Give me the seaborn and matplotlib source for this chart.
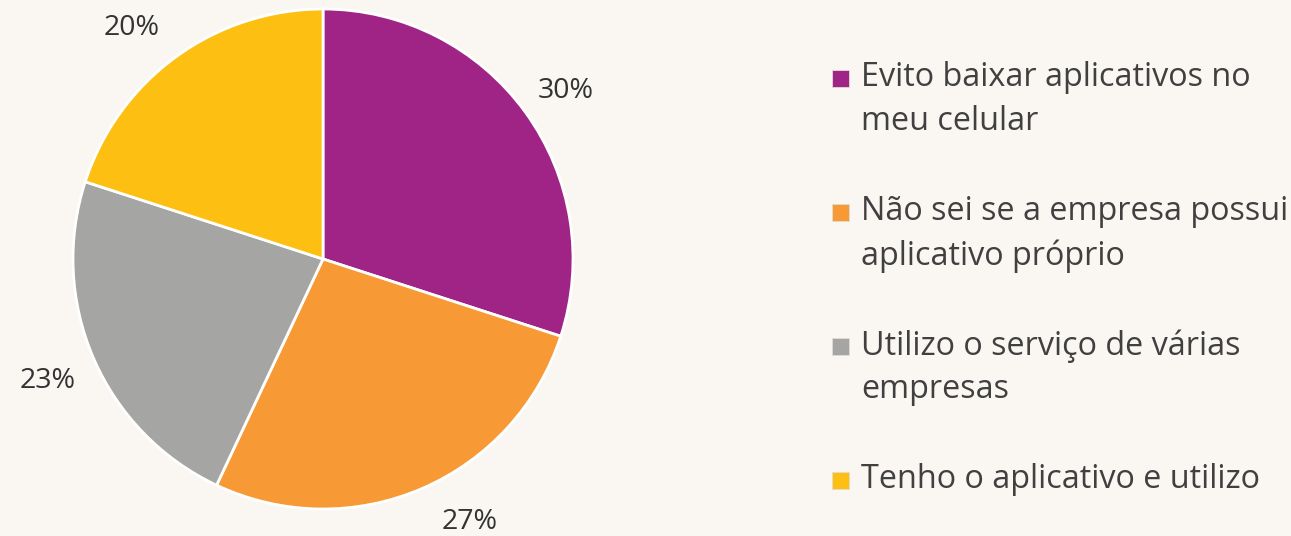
import matplotlib
matplotlib.use("Agg")
import matplotlib.pyplot as plt
import seaborn as sns
from matplotlib.patches import Rectangle

sns.set_theme(style="white")
plt.rcParams['font.family'] = ['Open Sans', 'DejaVu Sans']

categories = ["Evito baixar aplicativos no\nmeu celular",
              "Não sei se a empresa possui\naplicativo próprio",
              "Utilizo o serviço de várias\nempresas",
              "Tenho o aplicativo e utilizo"]
values = [30, 27, 23, 20]
colors = ["#A02386", "#F79A36", "#A5A5A3", "#FDBF12"]
bg = "#FAF7F3"

W, H = 1291, 536
fig = plt.figure(figsize=(W / 100, H / 100), dpi=100, facecolor=bg)
ax = fig.add_axes([(323 - 250) / W, (H - 259 - 250) / H, 500 / W, 500 / H])
ax.set_facecolor(bg)

wedges, texts, autotexts = ax.pie(
    values, colors=colors, startangle=90, counterclock=False,
    autopct=lambda p: f"{p:.0f}%", pctdistance=1.2,
    wedgeprops=dict(edgecolor="white", linewidth=2),
    textprops=dict(fontsize=20.5, color="#333333"))
ax.set_xlim(-1, 1)
ax.set_ylim(-1, 1)
ax.set_aspect("equal")
# small nudges of the value labels, as placed in the original
nudges = [(0.0, -0.032), (0.11, 0.05), (0.0, -0.01), (-0.06, -0.048)]
for t, (dx, dy) in zip(autotexts, nudges):
    x, y = t.get_position()
    t.set_position((x + dx, y + dy))

# legend drawn manually so the marker aligns with the first text line
first_line_y = [78, 212, 346, 480]
line_gap = 44
for cat, col, y0 in zip(categories, colors, first_line_y):
    fig.patches.append(Rectangle((832 / W, 1 - (y0 + 9) / H), 17 / W, 17 / H,
                                 transform=fig.transFigure, facecolor=col,
                                 edgecolor="#e0dcd8", linewidth=0.6))
    for i, line in enumerate(cat.split("\n")):
        fig.text(861 / W, 1 - (y0 + i * line_gap) / H, line, fontsize=23.3,
                 color="#404040", va="center", ha="left")

fig.savefig("out.png", dpi=100, facecolor=bg)
